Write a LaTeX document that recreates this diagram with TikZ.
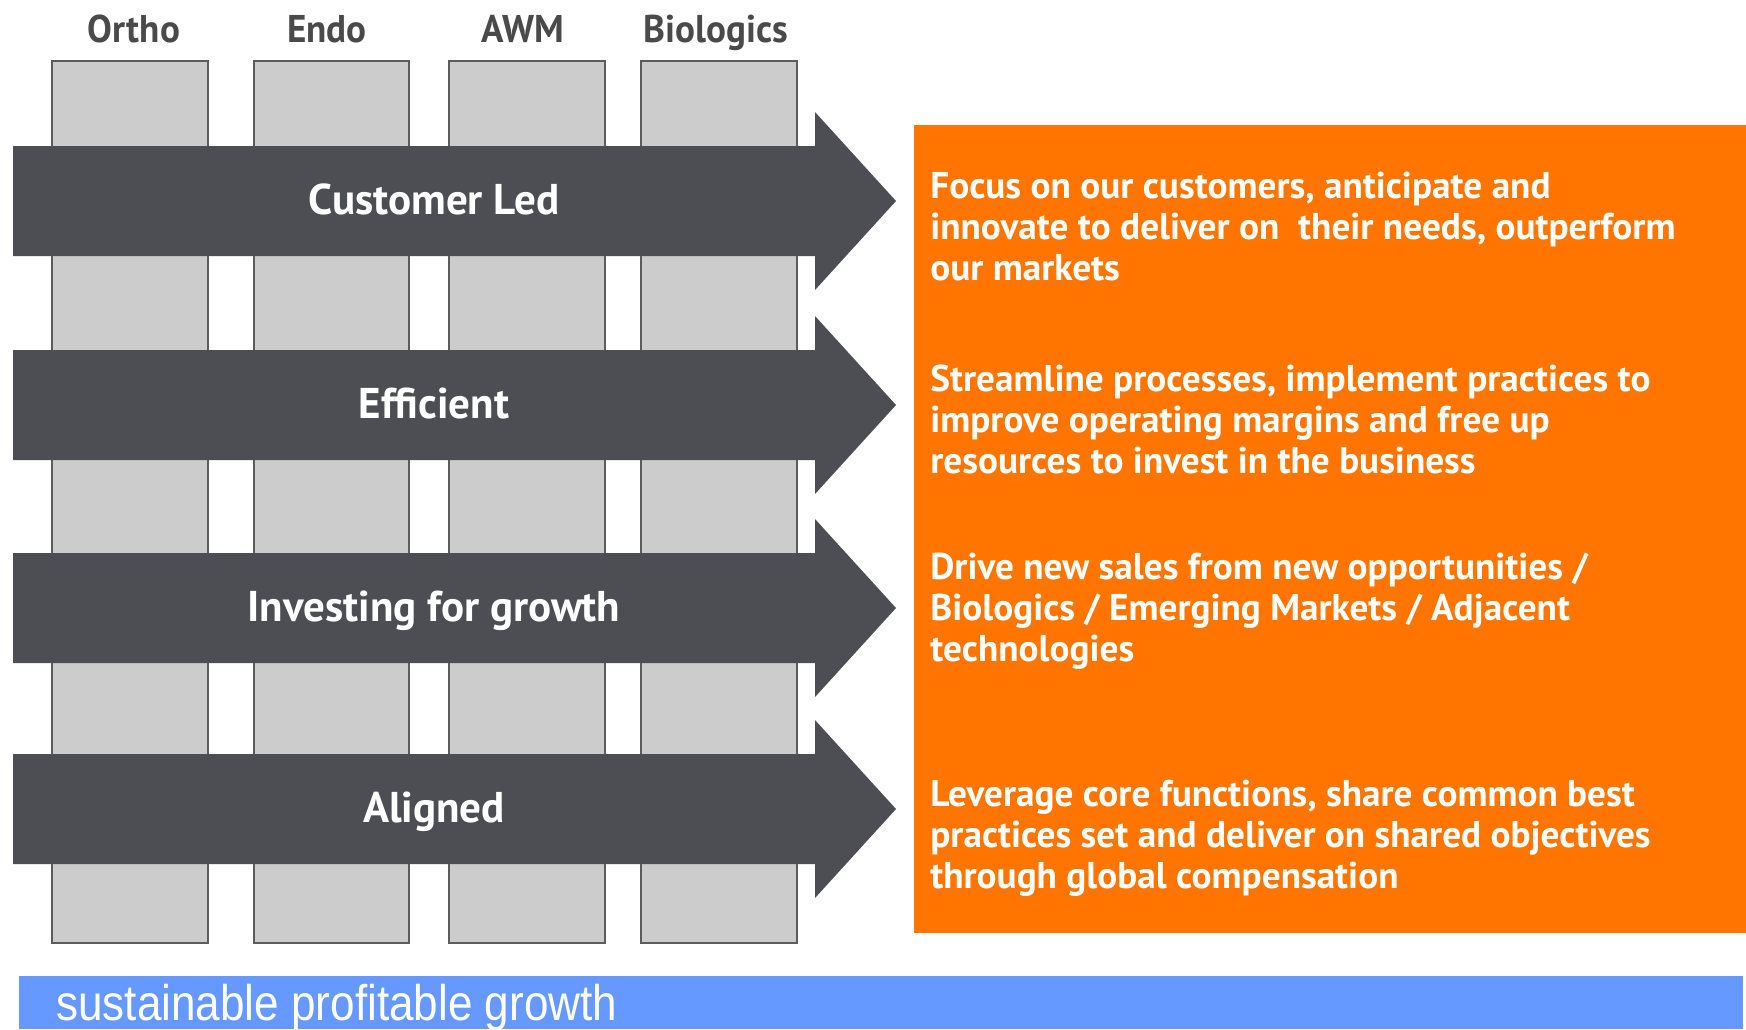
\documentclass[tikz,border=0pt]{standalone}
\usepackage{fontspec}
\setmainfont{PT Sans}
\newfontfamily\headfont[FakeStretch=0.96]{PT Sans}
\newfontfamily\growthfont[FakeStretch=0.88]{Liberation Sans}
\definecolor{arrowgrey}{HTML}{4D4E53}
\definecolor{boxgrey}{HTML}{CCCCCC}
\definecolor{boxedge}{HTML}{5C5C5C}
\definecolor{headgrey}{HTML}{4A4A4A}
\definecolor{aimorange}{HTML}{FF7500}
\definecolor{barblue}{HTML}{6699FF}
\tikzset{
  column/.style={fill=boxgrey, draw=boxedge, line width=0.9pt},
  bigarrow/.style={fill=arrowgrey},
  header/.style={text=headgrey, anchor=base, inner sep=0pt, font=\headfont\bfseries\fontsize{22}{26}\selectfont},
  arrowlabel/.style={text=white, anchor=base, inner sep=0pt, font=\bfseries\fontsize{24.5}{28}\selectfont},
  aimtext/.style={text=white, anchor=north west, align=left, inner sep=0pt, font=\bfseries\fontsize{21.2}{23.1}\selectfont},
}
\begin{document}
\begin{tikzpicture}[x=0.02cm, y=-0.02cm]
\useasboundingbox (0,0) rectangle (1746,1029);

% business columns
\draw[column] (52,61) rectangle (208,943);
\draw[column] (254,61) rectangle (409,943);
\draw[column] (449,61) rectangle (605,943);
\draw[column] (641,61) rectangle (797,943);
\node[header] (ortho) at (134,42) {Ortho};
\node[header] (endo) at (327,42) {Endo};
\node[header] (awm) at (523,42) {AWM};
\node[header] (bio) at (716,42) {Biologics};

% block arrows across the columns
\foreach \c in {201,405,608,809}
  \fill[bigarrow] (13,\c-55) -- (815,\c-55) -- (815,\c-89) -- (896,\c)
    -- (815,\c+89) -- (815,\c+55) -- (13,\c+55) -- cycle;
\node[arrowlabel] (custled) at (434,214) {Customer Led};
\node[arrowlabel] (efficient) at (434,418) {Efficient};
\node[arrowlabel] (investing) at (434,621) {Investing for growth};
\node[arrowlabel] (aligned) at (434,822) {Aligned};

% orange panel with the aims
\fill[aimorange] (914,125) rectangle (1746,933);
\node[aimtext] (aim1) at (930,172) {Focus on our customers, anticipate and\\innovate to deliver on\ \ their needs, outperform\\our markets};
\node[aimtext] (aim2) at (930,365) {Streamline processes, implement practices to\\improve operating margins and free up\\resources to invest in the business};
\node[aimtext] (aim3) at (930,553) {Drive new sales from new opportunities /\\Biologics / Emerging Markets / Adjacent\\technologies};
\node[aimtext] (aim4) at (930,780) {Leverage core functions, share common best\\practices set and deliver on shared objectives\\through global compensation};

% bottom bar
\fill[barblue] (19,976) rectangle (1743,1029);
\node[anchor=base west, inner sep=0pt, text=white, font=\growthfont\fontsize{28.5}{30}\selectfont] (growth) at (56,1020) {sustainable profitable growth};
\end{tikzpicture}
\end{document}
